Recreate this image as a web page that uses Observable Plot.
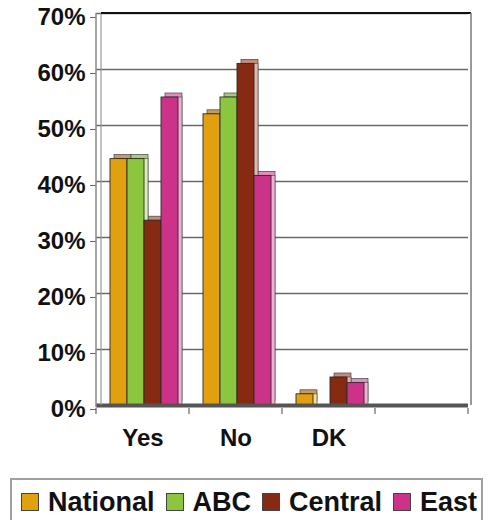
<!DOCTYPE html>
<html><head><meta charset="utf-8">
<script src="https://cdn.jsdelivr.net/npm/d3@7"></script>
<script src="https://cdn.jsdelivr.net/npm/@observablehq/plot@0.6"></script>
<style>
body{margin:0;background:#fff;font-family:"Liberation Sans",Arial,sans-serif;}
#wrap{position:relative;width:489px;height:520px;overflow:hidden;background:#fff;}
#legend{position:absolute;left:10px;top:478px;width:473px;height:60px;border:2px solid #a0a0a0;box-sizing:border-box;
  display:flex;align-items:flex-start;padding:11px 0 0 9px;font-weight:bold;font-size:27px;color:#111;line-height:22px;}
.item{display:flex;align-items:center;margin-right:11px;}
.sw{width:16px;height:16px;border:1.5px solid #444;margin-right:9px;}
</style></head><body><div id="wrap"></div>
<script>
const categories = ["Yes", "No", "DK", " "];
const series = ["National", "ABC", "Central", "East"];
const nationalValues = [44, 52, 2];
const abcValues = [44, 55, 0];
const centralValues = [33, 61, 5];
const eastValues = [55, 41, 4];
const frontColors = ["#E0A010", "#8CC63F", "#862A12", "#CC3388"];
const topColors = ["#C99A5E", "#A8CC78", "#C98878", "#E58CBE"];
const sideColors = ["#F4DC98", "#D8EFB4", "#E6B4AC", "#F2AED2"];
const yTicks = [0, 10, 20, 30, 40, 50, 60, 70];
const yTickLabels = ["0%", "10%", "20%", "30%", "40%", "50%", "60%", "70%"];

const valuesBySeries = [nationalValues, abcValues, centralValues, eastValues];
const rows = [];
series.forEach((s, si) => {
  valuesBySeries[si].forEach((v, ci) => {
    rows.push({category: categories[ci], series: s, value: v, front: frontColors[si], top: topColors[si], side: sideColors[si]});
  });
});
const shown = rows.filter(d => d.value > 0);
const floorRows = categories.map(c => ({category: c, value: 0}));

const plot = Plot.plot({
  width: 489, height: 470,
  marginLeft: 94, marginRight: 20, marginTop: 13, marginBottom: 65,
  style: {fontFamily: "'Liberation Sans', Arial, sans-serif", fontWeight: "bold", fontSize: "24px", color: "#111", background: "white", overflow: "visible"},
  fx: {domain: categories, padding: 0, label: null},
  x: {domain: series, paddingInner: 0, paddingOuter: 0.67, align: 0.55, axis: null},
  y: {domain: [0, 70]},
  marks: [
    Plot.gridY(yTicks, {stroke: "#6a6a6a", strokeOpacity: 1, strokeWidth: 1.5}),
    Plot.barY(shown, {fx: "category", x: "series", y: "value", fill: "top", dx: 4, dy: -4, stroke: "#444", strokeWidth: 0.7}),
    Plot.barY(shown, {fx: "category", x: "series", y: "value", fill: "side", dx: 4, dy: 0, stroke: "#555", strokeWidth: 0.7}),
    Plot.barY(shown, {fx: "category", x: "series", y: "value", fill: "front", stroke: "#2a2a2a", strokeWidth: 0.9}),
    Plot.ruleY(floorRows, {fx: "category", y: "value", stroke: "#555", strokeWidth: 4}),
    Plot.axisY(yTicks, {anchor: "left", tickSize: 6, tickPadding: 5, dy: 4, stroke: "#666",
      tickFormat: d => yTickLabels[yTicks.indexOf(d)], label: null}),
    Plot.axisFx({anchor: "bottom", tickSize: 0, tickPadding: 23, label: null})
  ]
});

const svg = d3.select(plot);
const fx = plot.scale("fx"), y = plot.scale("y");
const x0 = fx.apply(categories[0]);
const x1 = fx.apply(categories[categories.length - 1]) + fx.bandwidth;
const yTop = y.apply(70), yBottom = y.apply(0);
const g = svg.append("g");
g.append("line").attr("x1", x0).attr("x2", x0).attr("y1", yTop).attr("y2", yBottom + 2).attr("stroke", "#888").attr("stroke-width", 1.5);
g.append("line").attr("x1", x0 + 5).attr("x2", x0 + 5).attr("y1", yTop).attr("y2", yBottom).attr("stroke", "#999").attr("stroke-width", 1.2);
g.append("line").attr("x1", x0 + 5).attr("x2", x1 + 3).attr("y1", yTop).attr("y2", yTop).attr("stroke", "#111").attr("stroke-width", 2);
g.append("line").attr("x1", x1 + 3).attr("x2", x1 + 3).attr("y1", yTop).attr("y2", yBottom).attr("stroke", "#777").attr("stroke-width", 1.5);
categories.forEach((c, i) => {
  const xs = [fx.apply(c)];
  if (i === categories.length - 1) xs.push(fx.apply(c) + fx.bandwidth);
  xs.forEach(xv => g.append("line").attr("x1", xv).attr("x2", xv).attr("y1", yBottom + 3).attr("y2", yBottom + 9).attr("stroke", "#666").attr("stroke-width", 1.2));
});

const wrap = document.getElementById("wrap");
wrap.appendChild(plot);
const legend = document.createElement("div");
legend.id = "legend";
series.forEach((s, i) => {
  const item = document.createElement("div");
  item.className = "item";
  item.innerHTML = `<span class="sw" style="background:${frontColors[i]}"></span><span>${s}</span>`;
  legend.appendChild(item);
});
wrap.appendChild(legend);
</script>
</body></html>
